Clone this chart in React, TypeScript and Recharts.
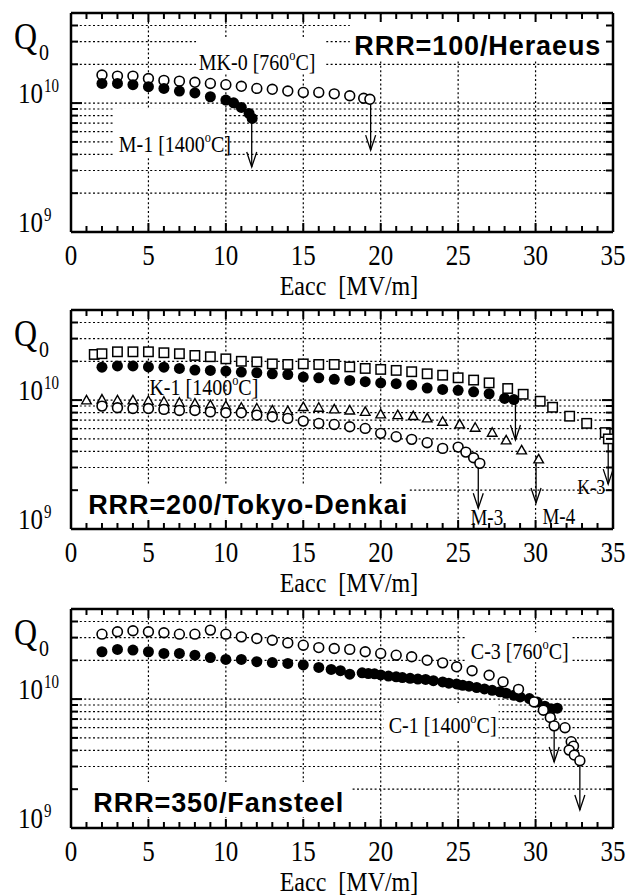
import React from "react";
import {
  ScatterChart,
  Scatter,
  XAxis,
  YAxis,
  CartesianGrid,
  ReferenceLine,
  ReferenceDot,
} from "recharts";

type Pair = [number, number];

const SERIF = '"Liberation Serif", "Times New Roman", Times, serif';
const SANS = '"Liberation Sans", Arial, Helvetica, sans-serif';
const STRETCH = 1.2;

// ---------- axes ----------
const X_DOMAIN: [number, number] = [0, 35];
const Y_DOMAIN: [number, number] = [1e9, 5e10];
const X_TICKS = [0, 1, 2, 3, 4, 5, 6, 7, 8, 9, 10, 11, 12, 13, 14, 15, 16, 17, 18, 19, 20, 21, 22, 23, 24, 25, 26, 27, 28, 29, 30, 31, 32, 33, 34, 35];
const X_GRID = [5, 10, 15, 20, 25, 30];
const Y_TICKS = [1e9, 2e9, 3e9, 4e9, 5e9, 6e9, 7e9, 8e9, 9e9, 1e10, 2e10, 3e10, 4e10];
const X_TITLE = "Eacc  [MV/m]";

// ---------- panel 1 : RRR=100 / Heraeus ----------
const P1_MK0: Pair[] = [
  [2, 1.65e10], [3, 1.62e10], [4, 1.62e10], [5, 1.55e10], [6, 1.5e10], [7, 1.48e10], [8, 1.45e10],
  [9, 1.42e10], [10, 1.39e10], [11, 1.35e10], [12, 1.3e10], [13, 1.28e10], [14, 1.24e10], [15, 1.21e10],
  [16, 1.21e10], [17, 1.18e10], [18, 1.14e10], [18.9, 1.09e10], [19.3, 1.07e10],
];
const P1_M1: Pair[] = [
  [2, 1.42e10], [3, 1.42e10], [4, 1.39e10], [5, 1.34e10], [6, 1.3e10], [7, 1.24e10], [8, 1.2e10],
  [9, 1.12e10], [10, 1.055e10], [10.5, 1.005e10], [11, 9.26e9], [11.5, 8.32e9], [11.7, 7.61e9],
];

// ---------- panel 2 : RRR=200 / Tokyo-Denkai ----------
const P2_K3: Pair[] = [
  [1.5, 2.26e10], [2, 2.29e10], [3, 2.37e10], [4, 2.37e10], [5, 2.37e10], [6, 2.33e10], [7, 2.29e10],
  [8, 2.22e10], [9, 2.17e10], [10, 2.09e10], [11, 2.0e10], [12, 1.98e10], [13, 1.91e10], [14, 1.89e10],
  [15, 1.91e10], [16, 1.89e10], [17, 1.89e10], [18, 1.81e10], [19, 1.76e10], [20, 1.73e10], [21, 1.7e10],
  [22, 1.66e10], [23, 1.6e10], [24, 1.56e10], [25, 1.49e10], [26, 1.43e10], [27, 1.36e10], [28.2, 1.23e10],
  [29.2, 1.11e10], [30.3, 9.8e9], [31.1, 8.8e9], [32.2, 7.5e9], [33.3, 6.6e9], [34.5, 5.6e9], [34.7, 5.0e9],
];
const P2_K1: Pair[] = [
  [2, 1.8e10], [3, 1.84e10], [4, 1.84e10], [5, 1.81e10], [6, 1.8e10], [7, 1.76e10], [8, 1.71e10],
  [9, 1.7e10], [10, 1.68e10], [11, 1.65e10], [12, 1.63e10], [13, 1.6e10], [14, 1.58e10], [15, 1.51e10],
  [16, 1.49e10], [17, 1.45e10], [18, 1.42e10], [19, 1.39e10], [20, 1.36e10], [21, 1.34e10], [22, 1.31e10],
  [23, 1.24e10], [24, 1.21e10], [25, 1.19e10], [26, 1.16e10], [27, 1.12e10], [28, 1.03e10], [28.6, 1.01e10],
];
const P2_M4: Pair[] = [
  [1, 9.95e9], [2, 1.01e10], [3, 9.95e9], [4, 9.95e9], [5, 9.84e9], [6, 9.71e9], [7, 9.54e9], [8, 9.38e9],
  [9, 9.15e9], [10, 8.98e9], [11, 8.72e9], [12, 8.61e9], [13, 8.31e9], [14, 8.21e9], [15, 8.83e9],
  [16, 8.72e9], [17, 8.47e9], [18, 8.31e9], [19, 8.1e9], [20, 7.75e9], [21.1, 7.65e9], [22.1, 7.52e9],
  [23, 7.21e9], [24, 6.79e9], [25.1, 6.48e9], [26.1, 6.1e9], [27.2, 5.58e9], [28.1, 4.87e9], [29.1, 4.07e9],
  [30.2, 3.47e9],
];
const P2_M3: Pair[] = [
  [2, 8.98e9], [3, 8.72e9], [4, 8.61e9], [5, 8.61e9], [6, 8.47e9], [7, 8.31e9], [8, 8.31e9], [9, 8.1e9],
  [10, 7.97e9], [11, 7.97e9], [12, 7.65e9], [13, 7.43e9], [14, 7.21e9], [15, 6.87e9], [16, 6.59e9],
  [17, 6.47e9], [18, 6.21e9], [19, 6.03e9], [20, 5.52e9], [21, 5.2e9], [22, 4.96e9], [23, 4.67e9],
  [24, 4.22e9], [25, 4.32e9], [25.5, 3.95e9], [26, 3.57e9], [26.4, 3.23e9],
];

// ---------- panel 3 : RRR=350 / Fansteel ----------
const P3_C1: Pair[] = [
  [2, 2.33e10], [3, 2.43e10], [4, 2.4e10], [5, 2.33e10], [6, 2.26e10], [7, 2.26e10], [8, 2.19e10],
  [9, 2.1e10], [10, 2.03e10], [11, 2.03e10], [12, 1.95e10], [13, 1.92e10], [14, 1.89e10], [15, 1.84e10],
  [16, 1.76e10], [16.8, 1.7e10], [17.4, 1.66e10], [18, 1.56e10], [18.8, 1.6e10], [19.2, 1.58e10],
  [19.6, 1.57e10], [20, 1.54e10], [20.5, 1.51e10], [21, 1.49e10], [21.4, 1.47e10], [21.9, 1.45e10],
  [22.4, 1.43e10], [22.9, 1.42e10], [23.4, 1.39e10], [24, 1.36e10], [24.4, 1.33e10], [24.9, 1.31e10],
  [25.3, 1.28e10], [25.7, 1.26e10], [26.2, 1.23e10], [26.7, 1.2e10], [27.2, 1.17e10], [27.7, 1.14e10],
  [28.1, 1.11e10], [28.6, 1.07e10], [29, 1.04e10], [29.6, 1.01e10], [30.1, 9.5e9], [30.6, 8.8e9],
  [31, 8.4e9], [31.4, 8.5e9],
];
const P3_C3: Pair[] = [
  [2, 3.19e10], [3, 3.33e10], [4, 3.39e10], [5, 3.33e10], [6, 3.27e10], [7, 3.19e10], [8, 3.19e10],
  [9, 3.43e10], [10, 3.19e10], [11, 3.04e10], [12, 2.95e10], [13, 2.86e10], [14, 2.73e10], [15, 2.62e10],
  [16, 2.51e10], [17, 2.47e10], [18, 2.43e10], [19, 2.33e10], [20, 2.26e10], [21, 2.19e10], [22, 2.13e10],
  [23, 2.0e10], [24, 1.91e10], [24.9, 1.78e10], [25.9, 1.66e10], [27, 1.53e10], [27.9, 1.36e10],
  [28.9, 1.19e10], [29.9, 9.5e9], [30.5, 8.2e9], [30.95, 7.2e9], [31.2, 6.2e9], [31.9, 6.0e9],
  [32.3, 4.67e9], [32.45, 4.32e9], [32.17, 4.02e9], [32.5, 3.68e9], [32.86, 3.33e9],
];

// ---------- annotations (anchor in data coordinates) ----------
type Arrow = { x: number; from: number; to: number };
type Label = {
  x: number;
  y: number;
  kind: "sans" | "serif";
  pre: string;
  sup?: string;
  post?: string;
  size?: number;
  bg?: [number, number, number, number]; // white knock-out box: left, top, right, bottom offsets in px
};

const P1_ARROWS: Arrow[] = [
  { x: 11.67, from: 7.13e9, to: 3.19e9 },
  { x: 19.35, from: 1.055e10, to: 4.32e9 },
];
const P1_LABELS: Label[] = [
  { x: 26.27, y: 2.36e10, kind: "sans", pre: "RRR=100/Heraeus", bg: [-128, -36, 132, 6] },
  { x: 12.02, y: 1.8e10, kind: "serif", pre: "MK-0 [760", sup: "o", post: "C]", bg: [-61, -32, 69, 3] },
  { x: 6.71, y: 4.17e9, kind: "serif", pre: "M-1 [1400", sup: "o", post: "C]", bg: [-62, -44, 48, 6] },
];

const P2_ARROWS: Arrow[] = [
  { x: 28.7, from: 9.83e9, to: 4.9e9 },
  { x: 26.3, from: 3.19e9, to: 1.45e9 },
  { x: 30.03, from: 3.68e9, to: 1.59e9 },
  { x: 34.69, from: 4.81e9, to: 2.23e9 },
];
const P2_LABELS: Label[] = [
  { x: 11.44, y: 1.31e9, kind: "sans", pre: "RRR=200/Tokyo-Denkai", bg: [-173, -29, 161, 5] },
  { x: 8.58, y: 1.09e10, kind: "serif", pre: "K-1 [1400", sup: "o", post: "C]" },
  { x: 26.85, y: 1.07e9, kind: "serif", pre: "M-3", size: 19 },
  { x: 31.5, y: 1.09e9, kind: "serif", pre: "M-4", size: 19 },
  { x: 33.6, y: 1.87e9, kind: "serif", pre: "K-3", size: 18 },
];

const P3_ARROWS: Arrow[] = [
  { x: 31.2, from: 8.22e9, to: 3.25e9 },
  { x: 32.86, from: 3.19e9, to: 1.38e9 },
];
const P3_LABELS: Label[] = [
  { x: 9.54, y: 1.33e9, kind: "sans", pre: "RRR=350/Fansteel", bg: [-144, -30, 133, 5] },
  { x: 28.98, y: 2.04e10, kind: "serif", pre: "C-3 [760", sup: "o", post: "C]", bg: [-54, -27, 52, 3] },
  { x: 24.0, y: 5.45e9, kind: "serif", pre: "C-1 [1400", sup: "o", post: "C]", bg: [-59, -30, 56, 7] },
];

// ---------- marker shapes ----------
const OpenCircle = (p: any) => (
  <circle cx={p.cx} cy={p.cy} r={4.9} fill="#fff" stroke="#000" strokeWidth={1.6} />
);
const FilledCircle = (p: any) => <circle cx={p.cx} cy={p.cy} r={5.5} fill="#000" />;
const OpenSquare = (p: any) => (
  <rect x={p.cx - 4.7} y={p.cy - 4.7} width={9.4} height={9.4} fill="#fff" stroke="#000" strokeWidth={1.5} />
);
const OpenTriangle = (p: any) => (
  <path
    d={`M${p.cx},${p.cy - 5} L${p.cx + 4.8},${p.cy + 3.5} L${p.cx - 4.8},${p.cy + 3.5} Z`}
    fill="#fff"
    stroke="#000"
    strokeWidth={1.4}
  />
);
const ArrowHead = (p: any) => (
  <path
    d={`M${p.cx - 5},${p.cy - 15} L${p.cx},${p.cy} L${p.cx + 5},${p.cy - 15}`}
    fill="none"
    stroke="#000"
    strokeWidth={1.3}
  />
);

const toPts = (d: Pair[]) => d.map(([x, y]) => ({ x, y }));

// stretched serif text (the original's Times is tall and narrow)
const SText = (props: { x: number; y: number; size: number; anchor?: string; children: any; pre?: boolean; k?: number }) => (
  <g transform={`translate(${props.x},${props.y}) scale(1,${props.k || STRETCH})`}>
    <text
      x={0}
      y={0}
      textAnchor={(props.anchor as any) || "start"}
      fontFamily={SERIF}
      fontSize={props.size}
      fill="#000"
      style={props.pre ? { whiteSpace: "pre" } : undefined}
    >
      {props.children}
    </text>
  </g>
);

// ---------- ticks ----------
const BottomTick = (p: any) => {
  const { x, y, payload } = p;
  const v = payload.value;
  const major = v % 5 === 0;
  return (
    <g>
      {v !== 0 && v !== 35 && (
        <line x1={x} y1={y} x2={x} y2={y - (major ? 9 : 6)} stroke="#000" strokeWidth={2} />
      )}
      {major && (
        <SText x={x} y={y + 33} size={25} anchor="middle" k={1.15}>
          {v}
        </SText>
      )}
    </g>
  );
};
const TopTick = (p: any) => {
  const { x, y, payload } = p;
  const v = payload.value;
  if (v === 0 || v === 35) return <g />;
  const major = v % 5 === 0;
  return <line x1={x} y1={y} x2={x} y2={y + (major ? 9 : 6)} stroke="#000" strokeWidth={2} />;
};
const LeftTick = (p: any) => {
  const { x, y, payload } = p;
  const v = payload.value;
  const decade = v === 1e10;
  const exp = v === 1e9 ? "9" : v === 1e10 ? "10" : null;
  return (
    <g>
      {v !== 1e9 && <line x1={x} y1={y} x2={x + (decade ? 11 : 7)} y2={y} stroke="#000" strokeWidth={2} />}
      {exp && (
        <g>
          <SText x={x - 28} y={y} size={25} anchor="end">
            10
          </SText>
          <SText x={x - 27} y={y - 11} size={15}>
            {exp}
          </SText>
        </g>
      )}
    </g>
  );
};
const RightTick = (p: any) => {
  const { x, y, payload } = p;
  const v = payload.value;
  if (v === 1e9) return <g />;
  const decade = v === 1e10;
  return <line x1={x} y1={y} x2={x - (decade ? 11 : 7)} y2={y} stroke="#000" strokeWidth={2} />;
};

const XTitle = (p: any) => {
  const vb = p.viewBox || { x: 71, y: 232, width: 542 };
  return (
    <SText x={vb.x + vb.width / 2 + 7} y={vb.y + 63} size={24} anchor="middle" pre k={1.1}>
      {X_TITLE}
    </SText>
  );
};
const YTitle = (p: any) => {
  const vb = p.viewBox || { x: 0, y: 13 };
  return (
    <g>
      <SText x={vb.x + 14} y={vb.y + 36} size={32}>
        Q
      </SText>
      <SText x={vb.x + 39} y={vb.y + 47} size={20}>
        0
      </SText>
    </g>
  );
};

const renderLabel = (l: Label) => (p: any) => {
  const cx = p.cx;
  const cy = p.cy;
  const bg = l.bg ? (
    <rect
      x={cx + l.bg[0]}
      y={cy + l.bg[1]}
      width={l.bg[2] - l.bg[0]}
      height={l.bg[3] - l.bg[1]}
      fill="#fff"
      stroke="none"
    />
  ) : null;
  if (l.kind === "sans") {
    return (
      <g>
        {bg}
        <text
          x={cx}
          y={cy}
          textAnchor="middle"
          fontFamily={SANS}
          fontWeight="bold"
          fontSize={27}
          letterSpacing={0.9}
          fill="#000"
        >
          {l.pre}
        </text>
      </g>
    );
  }
  const s = l.size || 20;
  return (
    <g>
      {bg}
      <SText x={cx} y={cy} size={s} anchor="middle">
        {l.pre}
        {l.sup && (
          <tspan dy={-s * 0.42} fontSize={s * 0.62}>
            {l.sup}
          </tspan>
        )}
        {l.post && <tspan dy={l.sup ? s * 0.42 : 0}>{l.post}</tspan>}
      </SText>
    </g>
  );
};

type SeriesDef = { data: Pair[]; shape: (p: any) => React.ReactElement; name: string };

const AXIS_LINE = { stroke: "#000", strokeWidth: 2.5 };
const AX = { xAxisId: "b", yAxisId: "l" };

function Panel(props: { series: SeriesDef[]; arrows: Arrow[]; labels: Label[] }) {
  const { series, arrows, labels } = props;
  return (
    <ScatterChart width={638} height={302} margin={{ top: 0, right: 0, bottom: 4, left: 0 }}>
      <CartesianGrid
        xAxisId="g"
        yAxisId="l"
        stroke="#000"
        strokeWidth={1.2}
        strokeDasharray="2 2.4"
        fill="none"
      />
      <XAxis
        xAxisId="b"
        dataKey="x"
        type="number"
        domain={X_DOMAIN}
        allowDataOverflow
        ticks={X_TICKS}
        interval={0}
        orientation="bottom"
        height={66}
        tickSize={0}
        tickMargin={0}
        tickLine={false}
        axisLine={AXIS_LINE}
        tick={BottomTick}
        label={<XTitle />}
      />
      <XAxis
        xAxisId="t"
        dataKey="x"
        type="number"
        domain={X_DOMAIN}
        allowDataOverflow
        ticks={X_TICKS}
        interval={0}
        orientation="top"
        height={13}
        tickSize={0}
        tickMargin={0}
        tickLine={false}
        axisLine={AXIS_LINE}
        tick={TopTick}
      />
      <XAxis xAxisId="g" dataKey="x" type="number" domain={X_DOMAIN} allowDataOverflow ticks={X_GRID} hide />
      <YAxis
        yAxisId="l"
        dataKey="y"
        type="number"
        scale="log"
        domain={Y_DOMAIN}
        allowDataOverflow
        ticks={Y_TICKS}
        interval={0}
        orientation="left"
        width={71}
        tickSize={0}
        tickMargin={0}
        tickLine={false}
        axisLine={AXIS_LINE}
        tick={LeftTick}
        label={<YTitle />}
      />
      <YAxis
        yAxisId="r"
        dataKey="y"
        type="number"
        scale="log"
        domain={Y_DOMAIN}
        allowDataOverflow
        ticks={Y_TICKS}
        interval={0}
        orientation="right"
        width={25}
        tickSize={0}
        tickMargin={0}
        tickLine={false}
        axisLine={AXIS_LINE}
        tick={RightTick}
      />
      {labels.map((l, i) => (
        <ReferenceDot key={"l" + i} {...AX} x={l.x} y={l.y} r={1} shape={renderLabel(l)} />
      ))}
      {series.map((s) => (
        <Scatter
          key={s.name}
          name={s.name}
          {...AX}
          data={toPts(s.data)}
          shape={s.shape}
          isAnimationActive={false}
        />
      ))}
      {arrows.map((a, i) => (
        <ReferenceLine
          key={"as" + i}
          {...AX}
          segment={[
            { x: a.x, y: a.from },
            { x: a.x, y: a.to },
          ]}
          stroke="#000"
          strokeWidth={1.3}
        />
      ))}
      {arrows.map((a, i) => (
        <ReferenceDot key={"ah" + i} {...AX} x={a.x} y={a.to} r={1} shape={ArrowHead} />
      ))}
    </ScatterChart>
  );
}

export default function App() {
  return (
    <div style={{ position: "absolute", left: 0, top: 0, width: 638, height: 895, background: "#fff", overflow: "hidden" }}>
      <div style={{ position: "absolute", left: 0, top: 0 }}>
        <Panel
          series={[
            { name: "MK-0", data: P1_MK0, shape: OpenCircle },
            { name: "M-1", data: P1_M1, shape: FilledCircle },
          ]}
          arrows={P1_ARROWS}
          labels={P1_LABELS}
        />
      </div>
      <div style={{ position: "absolute", left: 0, top: 297 }}>
        <Panel
          series={[
            { name: "K-3", data: P2_K3, shape: OpenSquare },
            { name: "K-1", data: P2_K1, shape: FilledCircle },
            { name: "M-4", data: P2_M4, shape: OpenTriangle },
            { name: "M-3", data: P2_M3, shape: OpenCircle },
          ]}
          arrows={P2_ARROWS}
          labels={P2_LABELS}
        />
      </div>
      <div style={{ position: "absolute", left: 0, top: 596 }}>
        <Panel
          series={[
            { name: "C-1", data: P3_C1, shape: FilledCircle },
            { name: "C-3", data: P3_C3, shape: OpenCircle },
          ]}
          arrows={P3_ARROWS}
          labels={P3_LABELS}
        />
      </div>
    </div>
  );
}
